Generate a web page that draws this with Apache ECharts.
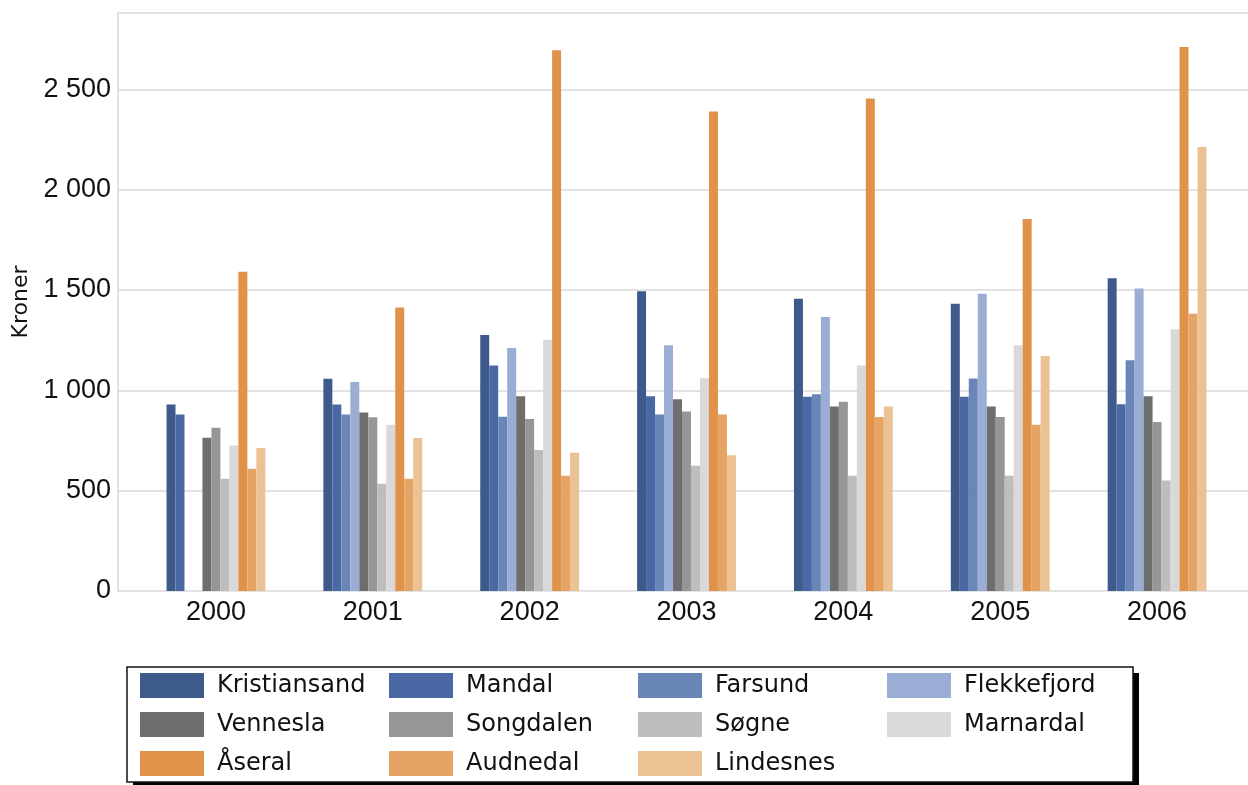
<!DOCTYPE html>
<html>
<head>
<meta charset="utf-8">
<script src="https://cdn.jsdelivr.net/npm/echarts@6/dist/echarts.min.js"></script>
<style>
html,body{margin:0;padding:0;background:#fff;}
#chart{width:1248px;height:785px;}
</style>
</head>
<body>
<div id="chart"></div>
<script>
const years = ['2000','2001','2002','2003','2004','2005','2006'];
const seriesNames = ['Kristiansand','Mandal','Farsund','Flekkefjord','Vennesla','Songdalen','Søgne','Marnardal','Åseral','Audnedal','Lindesnes'];
const kristiansand = [929, 1057, 1276, 1494, 1456, 1431, 1558];
const mandal       = [879, 929, 1123, 971, 968, 968, 931];
const farsund      = [null, 879, 868, 879, 980, 1059, 1150];
const flekkefjord  = [null, 1042, 1211, 1224, 1365, 1481, 1507];
const vennesla     = [763, 889, 971, 956, 919, 919, 971];
const songdalen    = [813, 866, 857, 894, 943, 867, 842];
const sogne        = [559, 534, 702, 624, 574, 574, 550];
const marnardal    = [725, 828, 1252, 1060, 1123, 1225, 1304];
const aseral       = [1591, 1412, 2694, 2389, 2454, 1853, 2710];
const audnedal     = [609, 559, 574, 879, 867, 828, 1381];
const lindesnes    = [712, 762, 689, 676, 919, 1171, 2212];
const yTicks = [0, 500, 1000, 1500, 2000, 2500];

const seriesData = [kristiansand, mandal, farsund, flekkefjord, vennesla, songdalen, sogne, marnardal, aseral, audnedal, lindesnes];
const colors = ['#3e5a8a','#4a69a4','#6a86b7','#9aaed5','#6e6e6e','#969696','#bdbdbd','#d9d9d9','#e0924a','#e6a464','#ebc293'];

const yMax = 2880;
const fmt = v => String(v).replace(/\B(?=(\d{3})+(?!\d))/g, ' ');

const chart = echarts.init(document.getElementById('chart'), null, {renderer:'canvas'});
chart.setOption({
  backgroundColor: '#fff',
  animation: false,
  color: colors,
  graphic: [
    {type: 'rect', z: 0, silent: true,
     shape: {x: 133, y: 673, width: 1006, height: 115},
     style: {fill: '#000'}}
  ],
  grid: [
    {left: 118, right: 0, top: 13, bottom: 194},
    {left: 137.5, right: 12.5, top: 13, bottom: 194}
  ],
  xAxis: [
    {gridIndex: 0, type: 'value', show: false, min: 0, max: 1},
    {gridIndex: 1, type: 'category', data: years,
     axisLine: {show: false}, axisTick: {show: false},
     axisLabel: {fontFamily: 'Liberation Sans', fontSize: 27, color: '#111', margin: 8}}
  ],
  yAxis: [
    {gridIndex: 0, type: 'value', min: 0, max: yMax, interval: 500,
     name: 'Kroner', nameLocation: 'middle', nameGap: 84,
     nameTextStyle: {fontFamily: 'DejaVu Sans', fontSize: 22, color: '#111'},
     axisLine: {show: true, lineStyle: {color: '#d6d6d6', width: 1.5}},
     axisTick: {show: false},
     axisLabel: {fontFamily: 'Liberation Sans', fontSize: 27, color: '#111', margin: 7,
       showMaxLabel: false,
       formatter: v => yTicks.includes(v) ? fmt(v) : ''},
     splitLine: {show: true, lineStyle: {color: '#dadada', width: 1.5}}},
    {gridIndex: 1, type: 'value', min: 0, max: yMax, interval: 500, show: false,
     splitLine: {show: false}}
  ],
  legend: {
    z: 5,
    left: 127, top: 667,
    width: 990,
    orient: 'horizontal',
    padding: [6, 11, 6, 13],
    itemGap: 14,
    itemWidth: 64, itemHeight: 25,
    icon: 'rect',
    backgroundColor: '#fff',
    borderColor: '#111', borderWidth: 1.5, borderRadius: 0,
    textStyle: {fontFamily: 'DejaVu Sans', fontSize: 24, color: '#111', width: 158, lineHeight: 25, padding: [0,0,0,8]},
    data: seriesNames
  },
  series: seriesNames.map((n, i) => ({
    name: n, type: 'bar', xAxisIndex: 1, yAxisIndex: 1,
    data: seriesData[i],
    barGap: '0%', barCategoryGap: '37%',
    itemStyle: {color: colors[i]}
  }))
});
</script>
</body>
</html>
